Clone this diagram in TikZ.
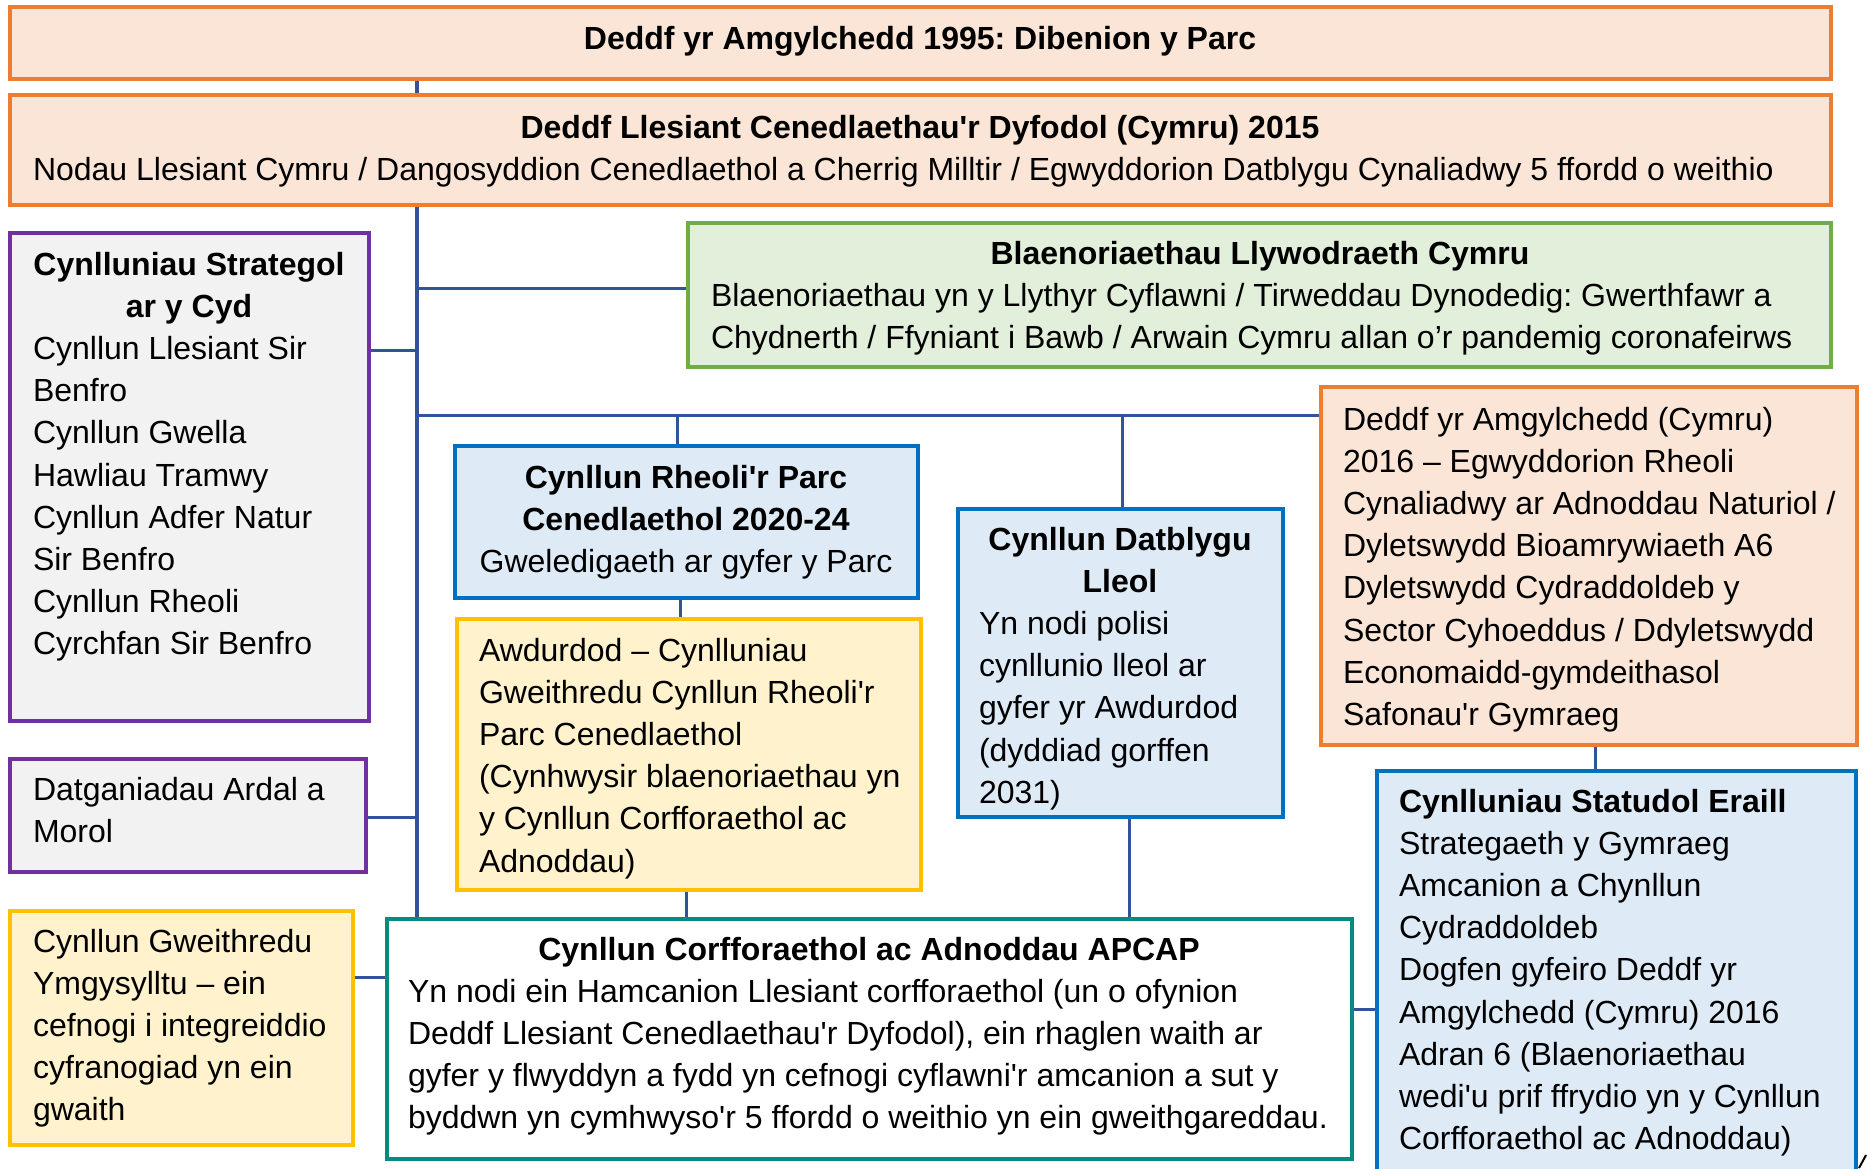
\documentclass[tikz,border=0pt]{standalone}
\usepackage{fontspec}
\setmainfont{Liberation Sans}[Ligatures=TeXOff]
\usetikzlibrary{calc}
\frenchspacing
\definecolor{orline}{HTML}{ED7D31}
\definecolor{orfill}{HTML}{FBE5D6}
\definecolor{grline}{HTML}{70AD47}
\definecolor{grfill}{HTML}{E2EFDA}
\definecolor{puline}{HTML}{7030A0}
\definecolor{pufill}{HTML}{F2F2F2}
\definecolor{blline}{HTML}{0070C0}
\definecolor{blfill}{HTML}{DEEBF7}
\definecolor{yeline}{HTML}{FFC000}
\definecolor{yefill}{HTML}{FFF2CC}
\definecolor{teline}{HTML}{078A82}
\definecolor{conn}{HTML}{2F5597}
\pgfdeclarelayer{bg}
\pgfsetlayers{bg,main}
\newcommand\mkbox[6]{\node[bxs,#1,minimum width={(#4-#2)*0.5pt},minimum height={(#5-#3)*0.5pt}] (#6) at (#2,#3) {};}
\tikzset{
  bxs/.style={draw,line width=2pt,inner sep=0pt,outer sep=0pt,anchor=north west},
  orbox/.style={draw=orline,fill=orfill},
  grbox/.style={draw=grline,fill=grfill},
  pubox/.style={draw=puline,fill=pufill},
  blbox/.style={draw=blline,fill=blfill},
  yebox/.style={draw=yeline,fill=yefill},
  tebox/.style={draw=teline,fill=white},
  tx/.style={inner sep=0pt,outer sep=0pt,anchor=base west,font=\fontsize{16pt}{21.1pt}\selectfont},
  txc/.style={tx,anchor=base},
  cn/.style={draw=conn,line width=1.5pt},
  spine/.style={draw=conn,line width=2pt}
}
\begin{document}
\begin{tikzpicture}[x=0.5pt,y=-0.5pt]
\useasboundingbox (0,0) rectangle (1867,1168);
\clip (0,0) rectangle (1867,1168);

% boxes
\mkbox{orbox}{10}{7}{1831}{79}{top}
\mkbox{orbox}{10}{95}{1831}{205}{llesiant}
\mkbox{grbox}{688}{223}{1831}{367}{green}
\mkbox{pubox}{10}{233}{369}{721}{purpleA}
\mkbox{orbox}{1321}{387}{1857}{745}{orangeB}
\mkbox{blbox}{455}{446}{918}{598}{rheoli}
\mkbox{blbox}{958}{509}{1283}{817}{datblygu}
\mkbox{yebox}{457}{619}{921}{890}{yellowA}
\mkbox{pubox}{10}{759}{366}{872}{purpleB}
\mkbox{yebox}{10}{911}{353}{1145}{yellowB}
\mkbox{tebox}{387}{919}{1352}{1159}{teal}
\mkbox{blbox}{1377}{771}{1856}{1190}{statudol}

% texts
\node[txc] (tTop) at (920,49) {\bfseries Deddf yr Amgylchedd 1995: Dibenion y Parc};
\node[tx] (tLles) at (33,138) {\parbox[t]{887pt}{{\centering\bfseries Deddf Llesiant Cenedlaethau'r Dyfodol (Cymru) 2015\par}\raggedright Nodau Llesiant Cymru / Dangosyddion Cenedlaethol a Cherrig Milltir / Egwyddorion Datblygu Cynaliadwy 5 ffordd o weithio}};
\node[tx] (tGreen) at (711,264) {\parbox[t]{549pt}{{\centering\bfseries Blaenoriaethau Llywodraeth Cymru\par}\raggedright Blaenoriaethau yn y Llythyr Cyflawni / Tirweddau Dynodedig: Gwerthfawr a\\ Chydnerth / Ffyniant i Bawb / Arwain Cymru allan o’r pandemig coronafeirws}};
\node[tx] (tPurpleA) at (33,275) {\parbox[t]{156pt}{{\centering\bfseries Cynlluniau Strategol\\ ar y Cyd\par}\raggedright Cynllun Llesiant Sir\\ Benfro\\ Cynllun Gwella\\ Hawliau Tramwy\\ Cynllun Adfer Natur\\ Sir Benfro\\ Cynllun Rheoli\\ Cyrchfan Sir Benfro}};
\node[tx] (tOrangeB) at (1343,430) {\parbox[t]{250pt}{\raggedright Deddf yr Amgylchedd (Cymru)\\ 2016 – Egwyddorion Rheoli\\ Cynaliadwy ar Adnoddau Naturiol /\\ Dyletswydd Bioamrywiaeth A6\\ Dyletswydd Cydraddoldeb y\\ Sector Cyhoeddus / Ddyletswydd\\ Economaidd-gymdeithasol\\ Safonau'r Gymraeg}};
\node[txc] (tRheoli) at (686,488) {\parbox[t]{220pt}{\centering{\bfseries Cynllun Rheoli'r Parc\\ Cenedlaethol 2020-24\\}Gweledigaeth ar gyfer y Parc}};
\node[tx] (tYellowA) at (479,661) {\parbox[t]{220pt}{\raggedright Awdurdod – Cynlluniau\\ Gweithredu Cynllun Rheoli'r\\ Parc Cenedlaethol\\ (Cynhwysir blaenoriaethau yn\\ y Cynllun Corfforaethol ac\\ Adnoddau)}};
\node[tx] (tDatblygu) at (979,550) {\parbox[t]{141pt}{{\centering\bfseries Cynllun Datblygu\\ Lleol\par}\raggedright Yn nodi polisi\\ cynllunio lleol ar\\ gyfer yr Awdurdod\\ (dyddiad gorffen\\ 2031)}};
\node[tx] (tPurpleB) at (33,800) {\parbox[t]{170pt}{\raggedright Datganiadau Ardal a\\ Morol}};
\node[tx] (tYellowB) at (33,952) {\parbox[t]{160pt}{\raggedright Cynllun Gweithredu\\ Ymgysylltu – ein\\ cefnogi i integreiddio\\ cyfranogiad yn ein\\ gwaith}};
\node[tx] (tTeal) at (408,960) {\parbox[t]{461pt}{{\centering\bfseries Cynllun Corfforaethol ac Adnoddau APCAP\par}\raggedright Yn nodi ein Hamcanion Llesiant corfforaethol (un o ofynion\\ Deddf Llesiant Cenedlaethau'r Dyfodol), ein rhaglen waith ar\\ gyfer y flwyddyn a fydd yn cefnogi cyflawni'r amcanion a sut y\\ byddwn yn cymhwyso'r 5 ffordd o weithio yn ein gweithgareddau.}};
\node[tx] (tStatudol) at (1399,812) {\parbox[t]{225pt}{\raggedright{\bfseries Cynlluniau Statudol Eraill}\\ Strategaeth y Gymraeg\\ Amcanion a Chynllun\\ Cydraddoldeb\\ Dogfen gyfeiro Deddf yr\\ Amgylchedd (Cymru) 2016\\ Adran 6 (Blaenoriaethau\\ wedi'u prif ffrydio yn y Cynllun\\ Corfforaethol ac Adnoddau)}};

% connectors
\coordinate (sp) at (417,0);
\coordinate (jG) at (417,288);
\coordinate (jPA) at (417,350);
\coordinate (jH) at (417,415);
\coordinate (jR) at (677,415);
\coordinate (jD) at (1122,415);
\coordinate (cRY) at (680,0);
\coordinate (cYT) at (686,0);
\coordinate (cDT) at (1129,0);
\coordinate (jPB) at (417,817);
\coordinate (cYB) at (0,977);
\coordinate (cTS) at (0,1009);
\coordinate (cOS) at (1595,0);
\begin{pgfonlayer}{bg}
\fill[white] (0,0) rectangle (1867,1168);
\path[spine] (sp |- top.south) -- (sp |- teal.north);
\path[cn] (jG) -- (jG -| green.west);
\path[cn] (purpleA.east |- jPA) -- (jPA);
\path[cn] (jH) -- (jH -| orangeB.west);
\path[cn] (jR) -- (jR |- rheoli.north);
\path[cn] (jD) -- (jD |- datblygu.north);
\path[cn] (cRY |- rheoli.south) -- (cRY |- yellowA.north);
\path[cn] (cYT |- yellowA.south) -- (cYT |- teal.north);
\path[cn] (cDT |- datblygu.south) -- (cDT |- teal.north);
\path[cn] (purpleB.east |- jPB) -- (jPB);
\path[cn] (yellowB.east |- cYB) -- (teal.west |- cYB);
\path[cn] (teal.east |- cTS) -- (statudol.west |- cTS);
\path[cn] (cOS |- orangeB.south) -- (cOS |- statudol.north);
\end{pgfonlayer}
\draw[line width=1pt] (1859,1168) -- (1866,1155);
\end{tikzpicture}
\end{document}
